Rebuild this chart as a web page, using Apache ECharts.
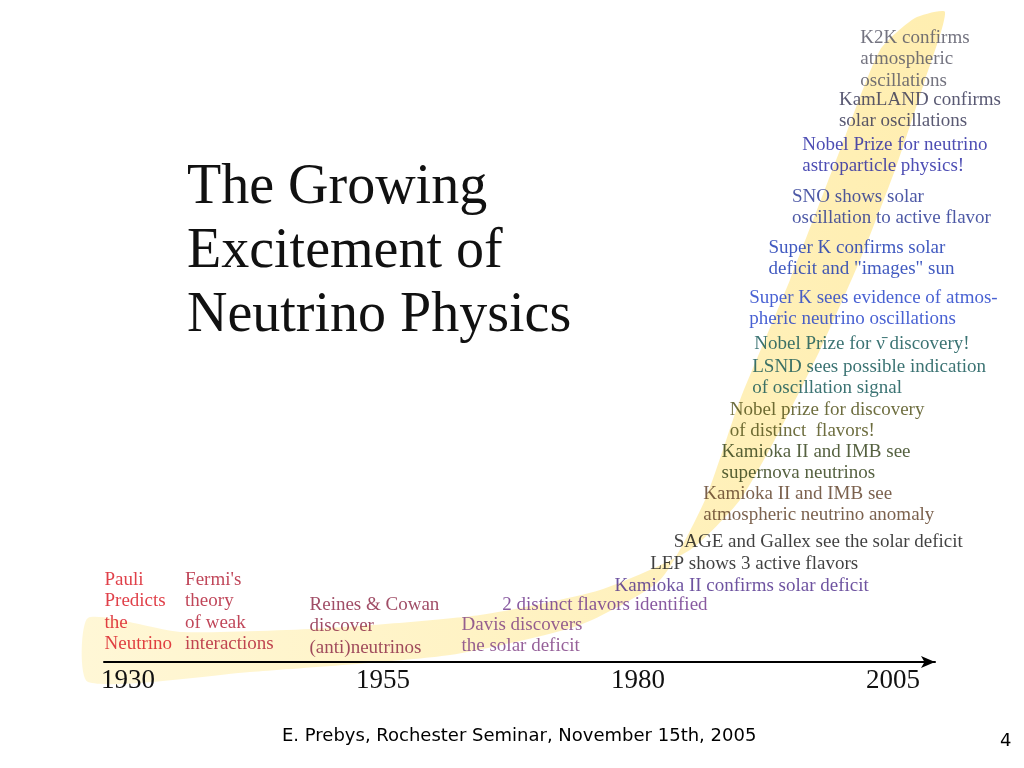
<!DOCTYPE html>
<html><head><meta charset="utf-8">
<script src="https://cdn.jsdelivr.net/npm/echarts@6/dist/echarts.min.js"></script>
<style>html,body{margin:0;background:#fff}#c{width:1024px;height:768px}</style>
</head><body><div id="c"></div>
<script>
const tickYears = [1930, 1955, 1980, 2005];
const eventTexts = [
 "Pauli\nPredicts\nthe\nNeutrino",
 "Fermi's\ntheory\nof weak\ninteractions",
 "Reines & Cowan\ndiscover\n(anti)neutrinos",
 "Davis discovers\nthe solar deficit",
 "2 distinct flavors identified",
 "Kamioka II confirms solar deficit",
 "LEP shows 3 active flavors",
 "SAGE and Gallex see the solar deficit",
 "Kamioka II and IMB see\natmospheric neutrino anomaly",
 "Kamioka II and IMB see\nsupernova neutrinos",
 "Nobel prize for discovery\nof distinct  flavors!",
 "LSND sees possible indication\nof oscillation signal",
 "Nobel Prize for ν\u0304 discovery!",
 "Super K sees evidence of atmos-\npheric neutrino oscillations",
 "Super K confirms solar\ndeficit and \"images\" sun",
 "SNO shows solar\noscillation to active flavor",
 "Nobel Prize for neutrino\nastroparticle physics!",
 "KamLAND confirms\nsolar oscillations",
 "K2K confirms\natmospheric\noscillations"
];
const eventYears = [1927.7,1935.6,1947.8,1962.7,1966.7,1977.7,1981.2,1983.5,1986.4,1988.2,1989.0,1991.2,1991.4,1990.9,1992.8,1995.1,1996.1,1999.7,2001.8];
const eventLevels = [93,93,68,48,68,87,109,131,179,221,263,306,329,375,425,476,528,573,635];
const eventColors = ["#d8101c","#b01830","#882040","#7a3880","#6a3088","#4a2888","#101010","#101010","#5a3a20","#2a3a10","#4a4a10","#0a5050","#0a5050","#1a3ac8","#1030b0","#203090","#2020a0","#303050","#505060"];
const bandLowerYears = [1926.08,1941.96,1961.57,1974.32,1982.16,1986.57,1990.0,1994.9,1999.81,2003.73,2007.16];
const bandLowerLevels = [-20,-10,7,37,82,162,262,382,512,612,644];
const bandUpperYears = [2010.1,2008.14,2005.2,2001.77,1997.84,1993.92,1990.0,1985.1,1976.28,1964.51,1949.81,1935.10,1926.08];
const bandUpperLevels = [650,582,492,402,312,232,162,112,72,47,34,30,44];

const chart = echarts.init(document.getElementById('c'));
const serif = "'Liberation Serif','DejaVu Serif',serif";
const bandPts = bandLowerYears.map((y,i)=>[y,bandLowerLevels[i]]).concat(bandUpperYears.map((y,i)=>[y,bandUpperLevels[i]]));
chart.setOption({
 animation:false,
 grid:{left:104,width:831,top:0,height:662},
 xAxis:{type:'value',min:1927.65,max:2009.12,z:10,
   axisLine:{show:true,symbol:['none','arrow'],symbolSize:[9,14],lineStyle:{color:'#000',width:2}},
   axisTick:{show:false},splitLine:{show:false},
   axisLabel:{customValues:tickYears,fontFamily:serif,fontSize:27,color:'#111',margin:5,formatter:v=>String(v)}},
 yAxis:{type:'value',min:0,max:662,show:false},
 graphic:[
  {type:'text',left:187,top:156,z:10,style:{text:"The Growing\nExcitement of\nNeutrino Physics",font:"56px "+serif,lineHeight:64,fill:'#111'}},
  {type:'text',left:282,top:727,style:{text:"E. Prebys, Rochester Seminar, November 15th, 2005",font:"18px 'DejaVu Sans',sans-serif",fill:'#000'}},
  {type:'text',left:1000,top:732,style:{text:"4",font:"18px 'DejaVu Sans',sans-serif",fill:'#000'}}
 ],
 series:[
  {type:'custom',clip:false,silent:true,z:1,data:[0],
   renderItem:(p,api)=>({type:'polygon',shape:{points:bandPts.map(pt=>api.coord(pt)),smooth:0.2},
     style:{fill:new echarts.graphic.LinearGradient(0,0,1,0,[{offset:0,color:'#fff7d6'},{offset:1,color:'#ffeeb0'}])}})},
  {type:'scatter',symbolSize:0,z:3,
   data:eventYears.map((y,i)=>({value:[y,eventLevels[i]],
     label:{show:true,formatter:eventTexts[i],position:[0,0],align:'left',verticalAlign:'top',
       fontFamily:serif,fontSize:19,lineHeight:21.5,color:eventColors[i]}}))}
 ]
});
</script></body></html>
